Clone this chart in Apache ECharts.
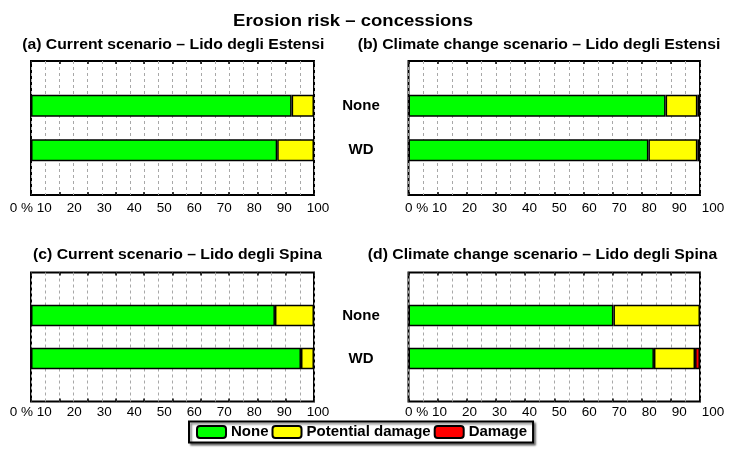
<!DOCTYPE html>
<html>
<head>
<meta charset="utf-8">
<script src="https://cdn.jsdelivr.net/npm/echarts@6/dist/echarts.min.js"></script>
<style>html,body{margin:0;padding:0;background:#fff;}#c{width:738px;height:462px;}</style>
</head>
<body>
<div id="c"></div>
<script>
// ---- data ----
const mainTitle = 'Erosion risk \u2013 concessions';
const panelTitles = [
  '(a) Current scenario \u2013 Lido degli Estensi',
  '(b) Climate change scenario \u2013 Lido degli Estensi',
  '(c) Current scenario \u2013 Lido degli Spina',
  '(d) Climate change scenario \u2013 Lido degli Spina'
];
const categories = ['None', 'WD'];
const seriesNames = ['None', 'Potential damage', 'Damage'];
const tickLabels = ['0 %', '10', '20', '30', '40', '50', '60', '70', '80', '90', '100'];

const panelA_none = [92.1, 87.0];
const panelA_potential = [7.9, 13.0];
const panelA_damage = [0, 0];

const panelB_none = [88.2, 82.3];
const panelB_potential = [10.9, 16.8];
const panelB_damage = [0.9, 0.9];

const panelC_none = [86.2, 95.4];
const panelC_potential = [13.8, 4.6];
const panelC_damage = [0, 0];

const panelD_none = [70.3, 84.2];
const panelD_potential = [29.7, 14.1];
const panelD_damage = [0, 1.7];

const panelData = [
  [panelA_none, panelA_potential, panelA_damage],
  [panelB_none, panelB_potential, panelB_damage],
  [panelC_none, panelC_potential, panelC_damage],
  [panelD_none, panelD_potential, panelD_damage]
];

// ---- styling / layout ----
const FONT = '"Liberation Sans", Arial, Helvetica, sans-serif';
const colors = ['#00ff00', '#ffff00', '#ff0000'];
const layout = [
  {left: 31, top: 61, width: 283, height: 134, labLeft: 6.7, labWidth: 300, labMargin: 6, cat: true, barW: 22, tx: 173.3, ty: 45},
  {left: 408.5, top: 61, width: 291.5, height: 134, labLeft: 402, labWidth: 299.7, labMargin: 6, cat: false, barW: 22, tx: 539, ty: 45},
  {left: 31, top: 272.5, width: 283, height: 129, labLeft: 6.7, labWidth: 300, labMargin: 4, cat: true, barW: 21.5, tx: 177.5, ty: 255},
  {left: 408.5, top: 272.5, width: 291.5, height: 129, labLeft: 402, labWidth: 299.7, labMargin: 4, cat: false, barW: 21.5, tx: 542.5, ty: 255}
];
const yCats = ['_t'].concat(categories, ['_b']);
const gridLineStyle = {color: '#a8a8a8', type: [3, 3], width: 1};

const grid = [], xAxis = [], yAxis = [], series = [];
layout.forEach(function (L, p) {
  grid.push({left: L.left, top: L.top, width: L.width, height: L.height, show: true,
    borderColor: '#000', borderWidth: 2, backgroundColor: '#fff'});
});
layout.forEach(function (L, p) {
  grid.push({left: L.labLeft, top: L.top, width: L.labWidth, height: L.height, show: false});
});
layout.forEach(function (L, p) {
  // main axis (bottom)
  xAxis.push({type: 'value', gridIndex: p, min: 0, max: 100, interval: 10, position: 'bottom',
    axisLine: {show: false},
    axisTick: {show: true, inside: true, length: 3, lineStyle: {color: '#000', width: 1.5}},
    axisLabel: {show: false},
    splitLine: {show: true, lineStyle: gridLineStyle},
    minorTick: {show: false, splitNumber: 2},
    minorSplitLine: {show: true, lineStyle: gridLineStyle}
  });
  // top ticks
  xAxis.push({type: 'value', gridIndex: p, min: 0, max: 100, interval: 10, position: 'top',
    axisLine: {show: false},
    axisTick: {show: true, inside: true, length: 3, lineStyle: {color: '#000', width: 1.5}},
    axisLabel: {show: false}, splitLine: {show: false}
  });
  // label axis
  xAxis.push({type: 'value', gridIndex: 4 + p, min: 0, max: 100, interval: 10, position: 'bottom',
    axisLine: {show: false}, axisTick: {show: false}, splitLine: {show: false},
    axisLabel: {show: true, align: 'left', margin: L.labMargin, color: '#000', fontFamily: FONT, fontSize: 13.5,
      formatter: function (v) {
        const i = Math.round(v / 10);
        if (i === 0) return '{z|' + tickLabels[0] + '}';
        return tickLabels[i];
      },
      rich: {z: {padding: [0, 0, 0, 3], fontFamily: FONT, fontSize: 13.5, color: '#000'}}
    }
  });
  yAxis.push({type: 'category', gridIndex: p, data: yCats, inverse: true, boundaryGap: false,
    position: 'right',
    axisLine: {show: false}, axisTick: {show: false}, splitLine: {show: false},
    axisLabel: {show: L.cat, interval: 0, margin: 47, align: 'center', color: '#000',
      fontFamily: FONT, fontSize: 15, fontWeight: 'bold',
      formatter: function (v) { return v.charAt(0) === '_' ? '' : v; }}
  });
  yAxis.push({type: 'value', gridIndex: 4 + p, show: false, min: 0, max: 1});

  panelData[p].forEach(function (vals, s) {
    series.push({
      name: seriesNames[s], type: 'bar', stack: 'p' + p,
      xAxisIndex: 3 * p, yAxisIndex: 2 * p,
      barWidth: L.barW,
      itemStyle: {color: colors[s], borderColor: '#000', borderWidth: 1.5},
      emphasis: {disabled: true},
      animation: false,
      data: ['-'].concat(vals.map(function (v) { return v === 0 ? '-' : v; }), ['-'])
    });
  });
});

const graphic = [{
  type: 'text', x: 353, y: 21.5, scaleX: 1.09,
  style: {text: mainTitle, font: 'bold 17px ' + FONT, fill: '#000', align: 'center', verticalAlign: 'middle'}
}];
layout.forEach(function (L, p) {
  graphic.push({type: 'text', x: L.tx, y: L.ty, scaleX: 1.08,
    style: {text: panelTitles[p], font: 'bold 14.6px ' + FONT, fill: '#000', align: 'center', verticalAlign: 'middle'}});
});

const chart = echarts.init(document.getElementById('c'), null, {renderer: 'canvas'});
chart.setOption({
  animation: false,
  backgroundColor: '#fff',
  grid: grid, xAxis: xAxis, yAxis: yAxis, series: series,
  graphic: graphic,
  legend: {
    data: seriesNames, left: 189, top: 421.5, orient: 'horizontal',
    itemWidth: 29, itemHeight: 12, itemGap: 3, icon: 'roundRect',
    padding: [3, 6, 3, 7],
    borderColor: '#000', borderWidth: 2, backgroundColor: '#fff',
    shadowColor: 'rgba(0,0,0,0.45)', shadowOffsetX: 2, shadowOffsetY: 2, shadowBlur: 2,
    selectedMode: false,
    textStyle: {color: '#000', fontFamily: FONT, fontSize: 15, fontWeight: 'bold'}
  }
});
</script>
</body>
</html>
